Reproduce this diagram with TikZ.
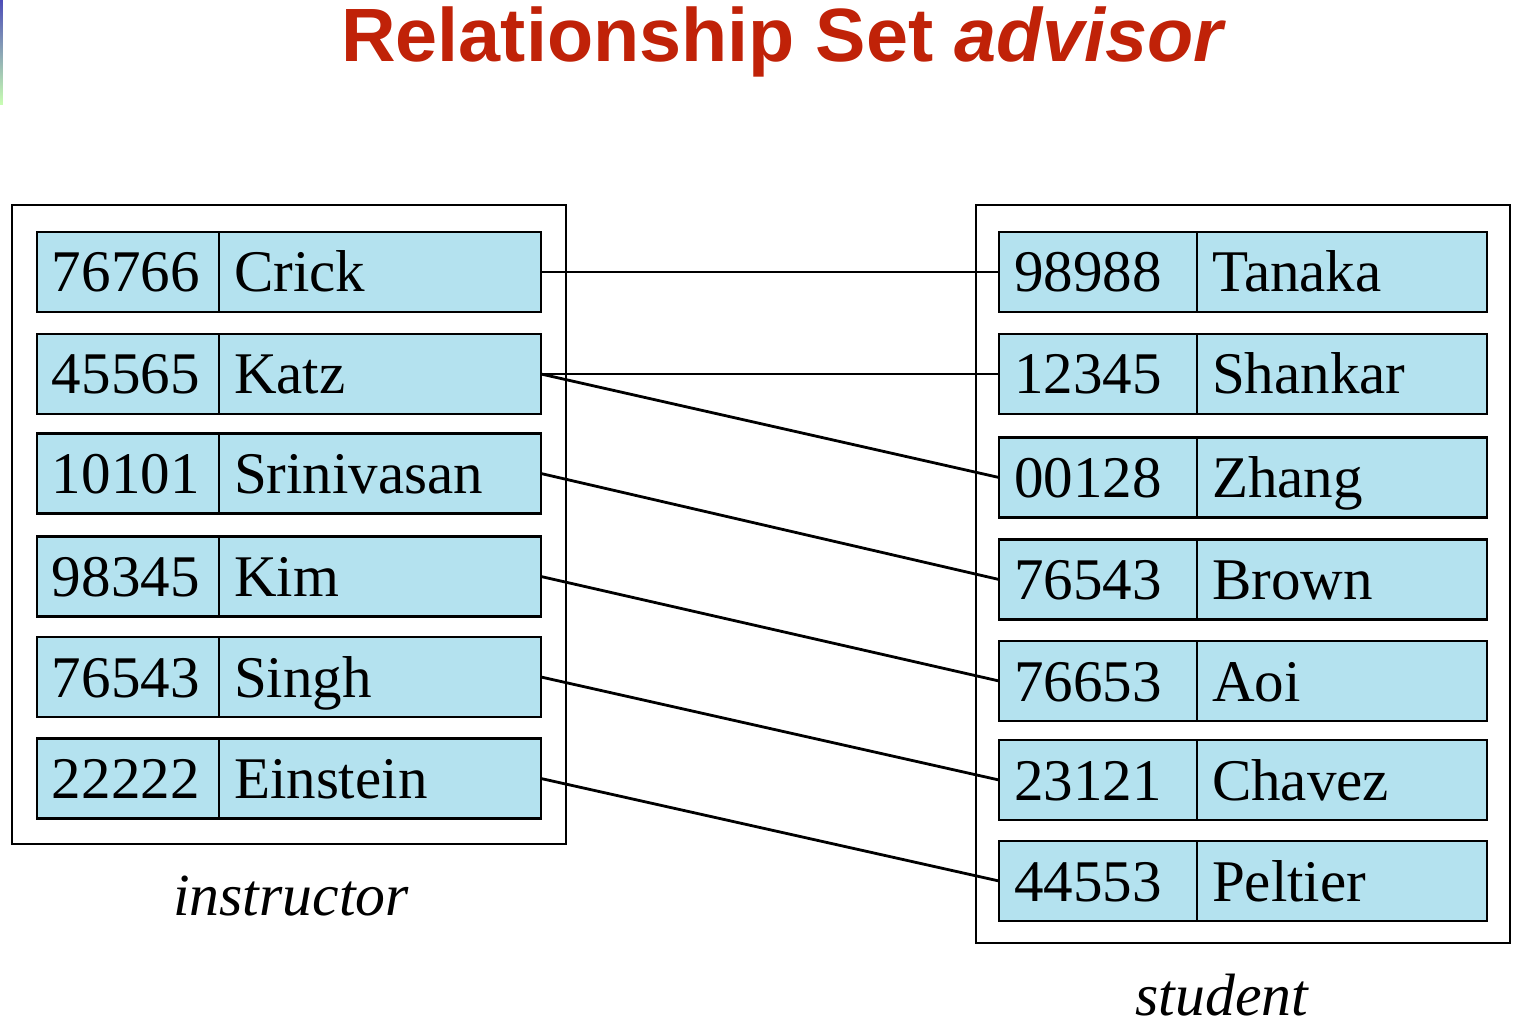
\documentclass[tikz,border=0pt]{standalone}
\usepackage{fontspec}
\setmainfont{Liberation Serif}
\newfontfamily\titlefont{Liberation Sans}
\usetikzlibrary{positioning}
\definecolor{rowblue}{RGB}{180,226,239}
\definecolor{titlered}{RGB}{192,34,8}
\tikzset{
  cell/.style={draw, fill=rowblue, line width=0.8pt, minimum height=0.8cm,
    text height=0.40cm, text depth=0pt, inner xsep=0.15cm, align=left,
    outer sep=0pt, font=\fontsize{16.8}{18}\selectfont},
  idl/.style={cell, text width=1.52cm},
  namel/.style={cell, text width=2.92cm},
  idr/.style={cell, text width=1.68cm},
  namer/.style={cell, text width=2.60cm},
  link/.style={line width=0.8pt},
  setbox/.style={line width=0.8pt},
  setname/.style={font=\fontsize{17}{20}\selectfont\itshape, anchor=base}
}
\begin{document}
\begin{tikzpicture}
\useasboundingbox (0,0) rectangle (15.24,-10.34);
\shade[top color=blue!60!black!70, middle color=cyan!40!gray, bottom color=yellow!30!green!30] (0,0) rectangle (0.03,-1.05);
\node[font=\titlefont\bfseries\fontsize{21.5}{24}\selectfont, text=titlered, anchor=base] (title) at (7.84,-0.62) {Relationship Set \textit{advisor}};
% instructor
\draw[setbox] (0.12,-2.05) rectangle (5.66,-8.44);
\node[idl] (crickid) at (1.28,-2.72) {76766};
\node[namel, right=0pt of crickid] (crick) {Crick};
\node[idl] (katzid) at (1.28,-3.74) {45565};
\node[namel, right=0pt of katzid] (katz) {Katz};
\node[idl] (srinivasanid) at (1.28,-4.735) {10101};
\node[namel, right=0pt of srinivasanid] (srinivasan) {Srinivasan};
\node[idl] (kimid) at (1.28,-5.765) {98345};
\node[namel, right=0pt of kimid] (kim) {Kim};
\node[idl] (singhid) at (1.28,-6.77) {76543};
\node[namel, right=0pt of singhid] (singh) {Singh};
\node[idl] (einsteinid) at (1.28,-7.785) {22222};
\node[namel, right=0pt of einsteinid] (einstein) {Einstein};
\node[setname] (instructorlabel) at (2.91,-9.15) {instructor};
% student
\draw[setbox] (9.76,-2.05) rectangle (15.10,-9.43);
\node[idr] (tanakaid) at (10.98,-2.72) {98988};
\node[namer, right=0pt of tanakaid] (tanaka) {Tanaka};
\node[idr] (shankarid) at (10.98,-3.74) {12345};
\node[namer, right=0pt of shankarid] (shankar) {Shankar};
\node[idr] (zhangid) at (10.98,-4.775) {00128};
\node[namer, right=0pt of zhangid] (zhang) {Zhang};
\node[idr] (brownid) at (10.98,-5.795) {76543};
\node[namer, right=0pt of brownid] (brown) {Brown};
\node[idr] (aoiid) at (10.98,-6.81) {76653};
\node[namer, right=0pt of aoiid] (aoi) {Aoi};
\node[idr] (chavezid) at (10.98,-7.80) {23121};
\node[namer, right=0pt of chavezid] (chavez) {Chavez};
\node[idr] (peltierid) at (10.98,-8.81) {44553};
\node[namer, right=0pt of peltierid] (peltier) {Peltier};
\node[setname] (studentlabel) at (12.22,-10.15) {student};
% advisor
\draw[link] (crick.east) -- (tanakaid.west);
\draw[link] (katz.east) -- (shankarid.west);
\draw[link] (katz.east) -- (zhangid.west);
\draw[link] (srinivasan.east) -- (brownid.west);
\draw[link] (kim.east) -- (aoiid.west);
\draw[link] (singh.east) -- (chavezid.west);
\draw[link] (einstein.east) -- (peltierid.west);
\end{tikzpicture}
\end{document}
